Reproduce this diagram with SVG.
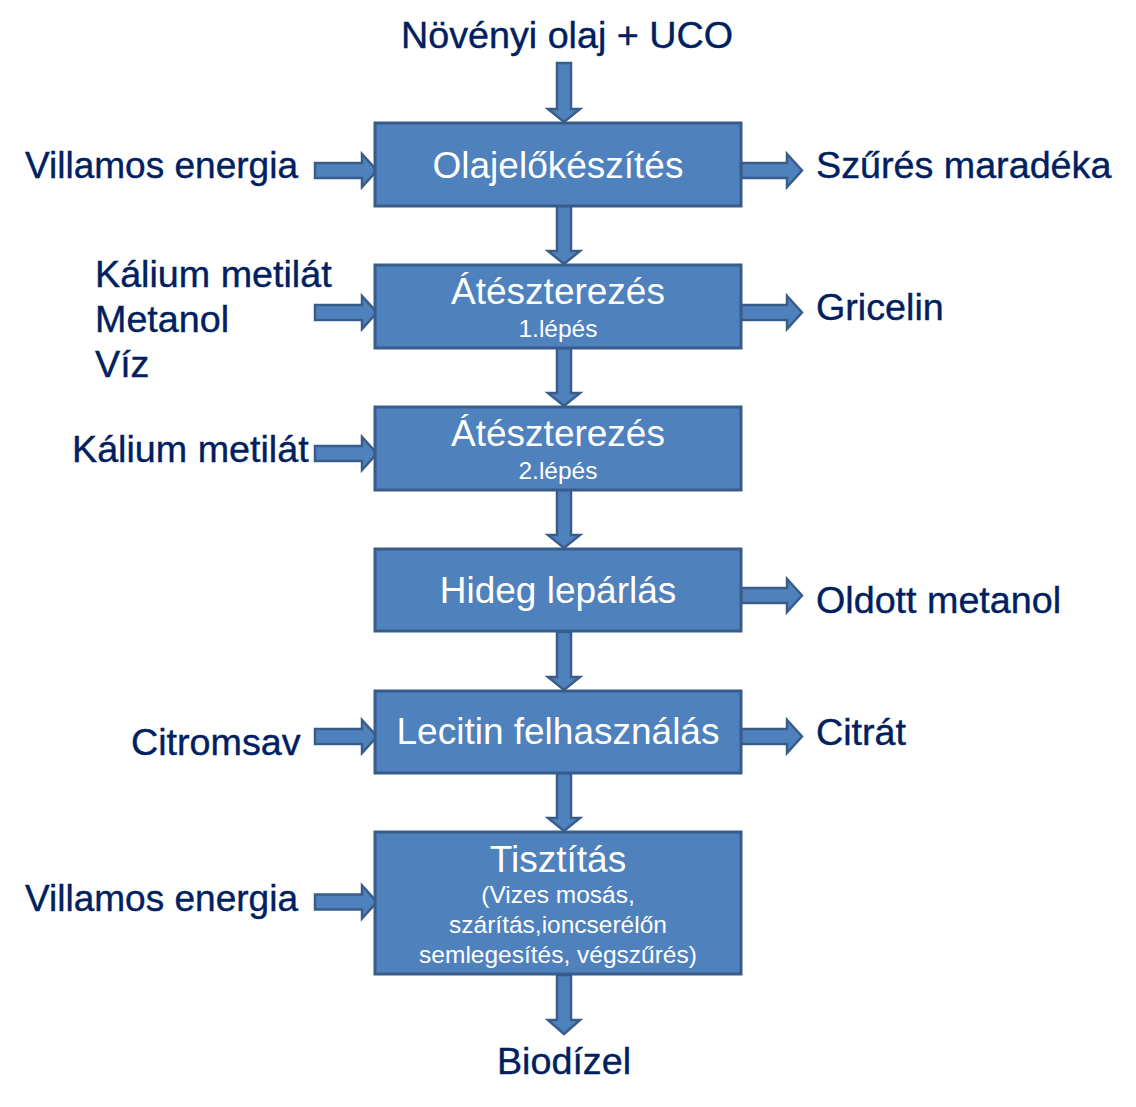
<svg xmlns="http://www.w3.org/2000/svg" width="1136" height="1107" viewBox="0 0 1136 1107">
<style>
.bg{fill:#ffffff}
.box{fill:#4f81bd;stroke:#385d8a;stroke-width:3}
.arr{fill:#4f81bd;stroke:#385d8a;stroke-width:2.5;stroke-linejoin:miter}
.lbl{font-family:"Liberation Sans",Arial,sans-serif;font-size:37.7px;fill:#002060;stroke:#002060;stroke-width:0.4}
.bt{font-family:"Liberation Sans",Arial,sans-serif;font-size:37px;fill:#ffffff;text-anchor:middle}
.st{font-family:"Liberation Sans",Arial,sans-serif;font-size:24.5px;fill:#ffffff;text-anchor:middle}
</style>
<rect class="bg" x="0" y="0" width="1136" height="1107"/>
<g id="connectors">
  <polygon class="arr" points="557,63 571,63 571,109 580,109 564,122 548,109 557,109"/>
  <polygon class="arr" points="557,206 571,206 571,251 580,251 564,264 548,251 557,251"/>
  <polygon class="arr" points="557,348 571,348 571,393 580,393 564,406 548,393 557,393"/>
  <polygon class="arr" points="557,490 571,490 571,535 580,535 564,548 548,535 557,535"/>
  <polygon class="arr" points="557,632 571,632 571,677 580,677 564,690 548,677 557,677"/>
  <polygon class="arr" points="557,773 571,773 571,818 580,818 564,831 548,818 557,818"/>
  <polygon class="arr" points="557,975 571,975 571,1020 580,1020 564,1034 548,1020 557,1020"/>
  <polygon class="arr" points="315,163 362,163 362,154 377,170.5 362,187 362,178 315,178"/>
  <polygon class="arr" points="315,305 362,305 362,296 377,312.5 362,329 362,320 315,320"/>
  <polygon class="arr" points="315,446 362,446 362,437 377,453.5 362,470 362,461 315,461"/>
  <polygon class="arr" points="315,729 362,729 362,720 377,736.5 362,753 362,744 315,744"/>
  <polygon class="arr" points="315,894.5 362,894.5 362,885.5 377,902 362,918.5 362,909.5 315,909.5"/>
  <polygon class="arr" points="741,163 787,163 787,154 802,170.5 787,187 787,178 741,178"/>
  <polygon class="arr" points="741,305 787,305 787,296 802,312.5 787,329 787,320 741,320"/>
  <polygon class="arr" points="741,588 787,588 787,579 802,595.5 787,612 787,603 741,603"/>
  <polygon class="arr" points="741,729 787,729 787,720 802,736.5 787,753 787,744 741,744"/>
</g>
<g id="node-olajelokeszites">
  <rect class="box" x="375" y="123" width="366" height="83"/>
  <text class="bt" x="558" y="178">Olajelőkészítés</text>
</g>
<g id="node-ateszterezes1">
  <rect class="box" x="375" y="265" width="366" height="83"/>
  <text class="bt" x="558" y="304">Átészterezés</text>
  <text class="st" x="558" y="337">1.lépés</text>
</g>
<g id="node-ateszterezes2">
  <rect class="box" x="375" y="407" width="366" height="83"/>
  <text class="bt" x="558" y="446">Átészterezés</text>
  <text class="st" x="558" y="479">2.lépés</text>
</g>
<g id="node-hideg">
  <rect class="box" x="375" y="549" width="366" height="82"/>
  <text class="bt" x="558" y="603">Hideg lepárlás</text>
</g>
<g id="node-lecitin">
  <rect class="box" x="375" y="691" width="366" height="82"/>
  <text class="bt" x="558" y="744">Lecitin felhasználás</text>
</g>
<g id="node-tisztitas">
  <rect class="box" x="375" y="832" width="366" height="142"/>
  <text class="bt" x="558" y="872">Tisztítás</text>
  <text class="st" x="558" y="903">(Vizes mosás,</text>
  <text class="st" x="558" y="933">szárítás,ioncserélőn</text>
  <text class="st" x="558" y="963">semlegesítés, végszűrés)</text>
</g>
<g id="labels">
  <text class="lbl" x="567" y="48" text-anchor="middle">Növényi olaj + UCO</text>
  <text class="lbl" x="25" y="178" textLength="273" lengthAdjust="spacingAndGlyphs">Villamos energia</text>
  <text class="lbl" x="816" y="178">Szűrés maradéka</text>
  <text class="lbl" x="95" y="287">Kálium metilát</text>
  <text class="lbl" x="95" y="332">Metanol</text>
  <text class="lbl" x="95" y="377">Víz</text>
  <text class="lbl" x="816" y="320">Gricelin</text>
  <text class="lbl" x="72" y="462">Kálium metilát</text>
  <text class="lbl" x="816" y="613">Oldott metanol</text>
  <text class="lbl" x="131" y="755">Citromsav</text>
  <text class="lbl" x="816" y="745">Citrát</text>
  <text class="lbl" x="25" y="911" textLength="273" lengthAdjust="spacingAndGlyphs">Villamos energia</text>
  <text class="lbl" x="564" y="1074" text-anchor="middle">Biodízel</text>
</g>
</svg>
